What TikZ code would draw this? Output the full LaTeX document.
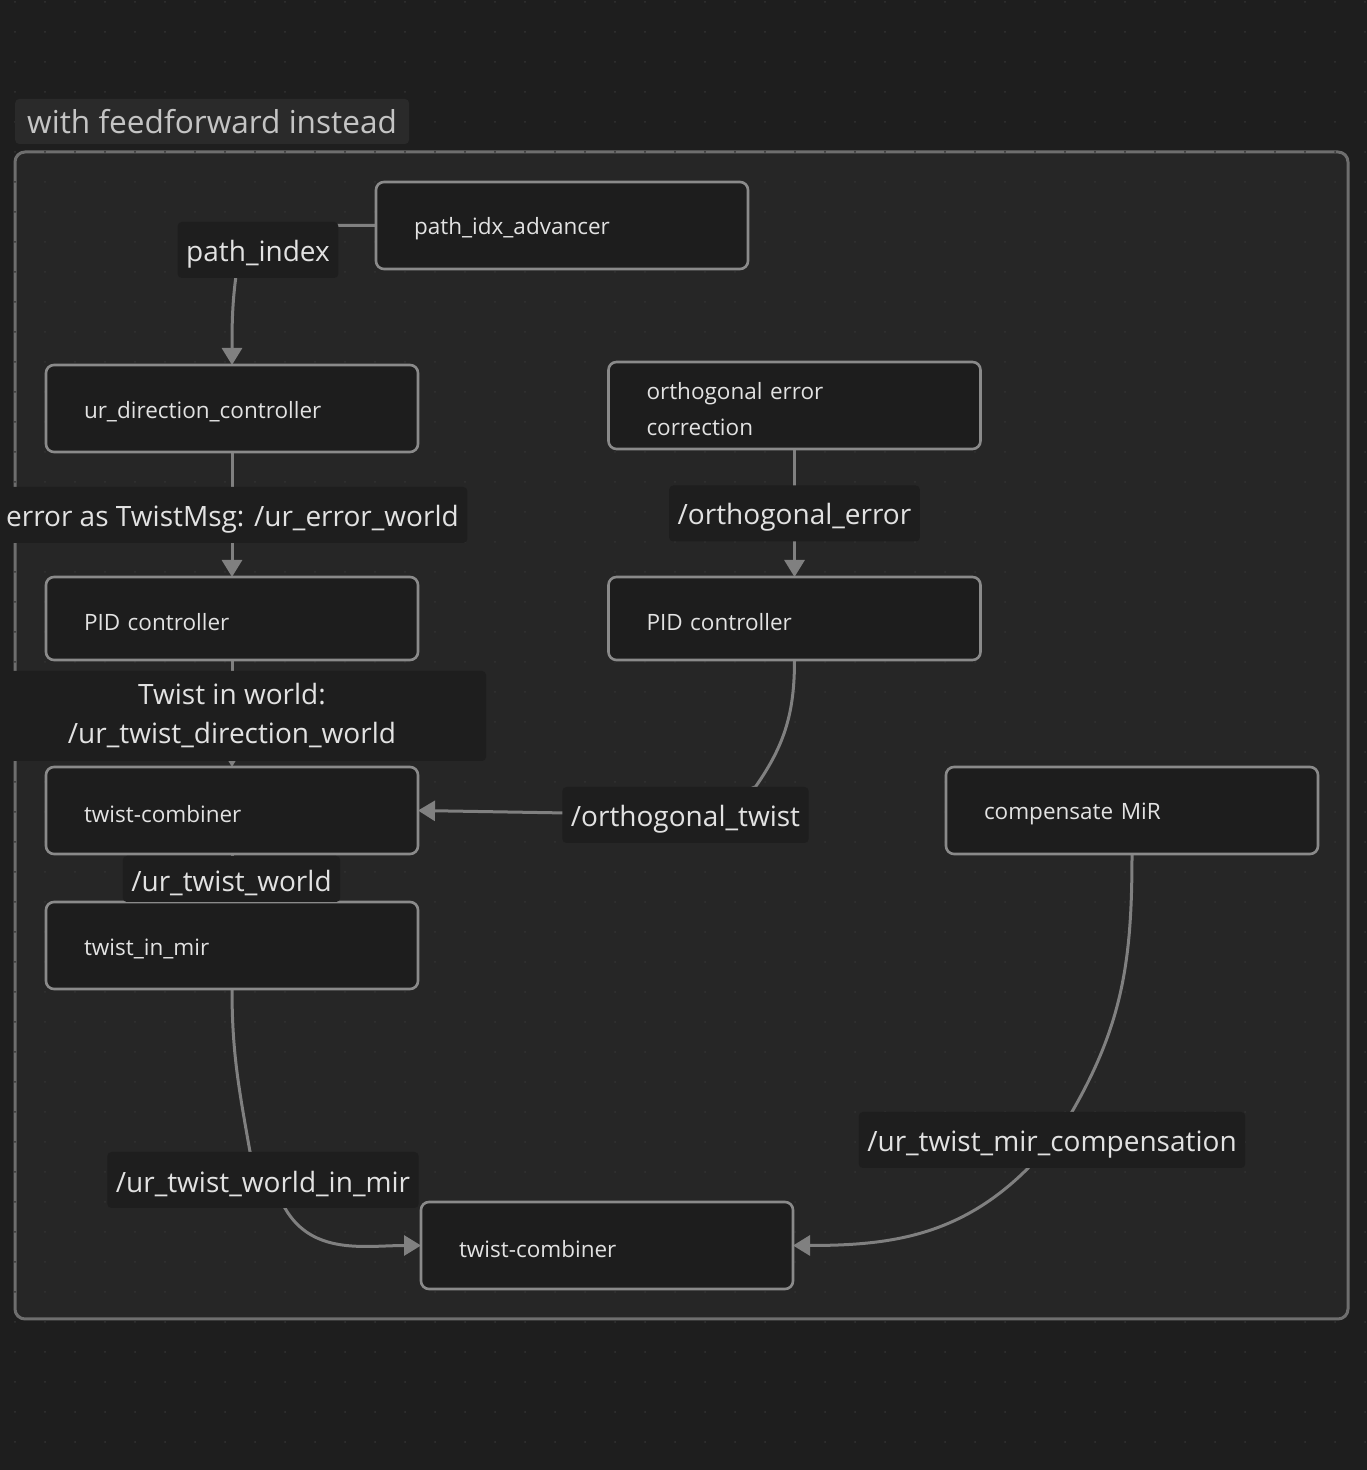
\documentclass[tikz,border=0pt]{standalone}
\usepackage{fontspec}
\setmainfont{Open Sans}
\usetikzlibrary{positioning, arrows.meta}
\definecolor{pagebg}{HTML}{1E1E1E}
\definecolor{framefill}{HTML}{262626}
\definecolor{frameline}{HTML}{6E6E6E}
\definecolor{titlefill}{HTML}{2A2A2A}
\definecolor{statefill}{HTML}{1D1D1D}
\definecolor{stateborder}{HTML}{8A8A8A}
\definecolor{labelfill}{HTML}{1E1E1E}
\definecolor{flowgray}{HTML}{808080}
\definecolor{textwhite}{HTML}{E2E2E2}
\definecolor{titlegray}{HTML}{C4C4C4}
\definecolor{griddot}{HTML}{333333}
\pgfdeclarelayer{background}
\pgfdeclarelayer{edges}
\pgfsetlayers{background,edges,main}

\begin{document}
\begin{tikzpicture}[x=1pt, y=1pt, state/.style={rectangle, rounded corners=8pt, draw=stateborder, line width=2.6pt, fill=statefill, text=textwhite, font=\fontsize{22.5}{36}\selectfont, text width=296pt, inner xsep=38pt, inner ysep=0pt, outer sep=0pt, align=left, minimum height=87pt, execute at begin node={\rule{0pt}{24pt}}}, topic/.style={rectangle, rounded corners=4pt, fill=labelfill, text=textwhite, font=\fontsize{28}{39}\selectfont, inner xsep=8.5pt, inner ysep=0pt, minimum height=56pt, align=center, execute at begin node={\rule{0pt}{29pt}}}, titlebox/.style={rectangle, rounded corners=4pt, fill=titlefill, text=titlegray, font=\fontsize{31.6}{36}\selectfont, inner xsep=12pt, inner ysep=0pt, minimum height=45pt}, flow/.style={draw=flowgray, line width=3pt, -{Triangle[width=20pt, length=17pt]}}]
\useasboundingbox (0,0) rectangle (1367,1470);

% Background
\begin{pgfonlayer}{background}
\fill[pagebg] (0,0) rectangle (1367,1470);
\draw[draw=frameline, line width=3pt, fill=framefill, rounded corners=10pt] (15,151) rectangle (1348,1318);
\foreach \i in {0,...,45} \foreach \j in {0,...,48} \fill[griddot] (15+30*\i, 1468-30*\j) circle (1pt);
\end{pgfonlayer}

\node[titlebox, anchor=west] (title) at (15,1348.5) {with feedforward instead};

% States

\node[state] (pidx) at (562,1244.5) {path\_idx\_advancer};
\node[state] (urdir) at (232,1061.5) {ur\_direction\_controller};
\node[state] (orth) at (794.5,1064.5) {orthogonal error\\correction};
\node[state, minimum height=83pt, below=125pt of urdir] (pidl) {PID controller};
\node[state, minimum height=83pt, below=128pt of orth] (pidr) {PID controller};
\node[state, below=107pt of pidl] (combl) {twist-combiner};
\node[state] (comp) at (1132,659.5) {compensate MiR};
\node[state, below=48pt of combl] (tmir) {twist\_in\_mir};
\node[state] (combb) at (607,224.5) {twist-combiner};

% Topics

\node[topic] (lpath) at (258,1220) {path\_index};
\node[topic] (lerr) at (232.5,955) {error as TwistMsg: /ur\_error\_world};
\node[topic] (lorthe) at (794.5,956.5) {/orthogonal\_error};
\node[topic, minimum width=508pt, minimum height=90pt] (ltw) at (232,754) {Twist in world:\\/ur\_twist\_direction\_world};
\node[topic] (lortht) at (685.5,655) {/orthogonal\_twist};
\node[topic, minimum height=46pt] (luwt) at (231.5,591) {/ur\_twist\_world};
\node[topic] (luwm) at (263,290) {/ur\_twist\_world\_in\_mir};
\node[topic] (lcomp) at (1052,330) {/ur\_twist\_mir\_compensation};

% Transitions

\begin{pgfonlayer}{edges}
\draw[flow] (pidx.west) -| ([xshift=-18pt]lpath.center) to[out=-100, in=90] (urdir.north);
\draw[flow] (urdir.south) -- (pidl.north);
\draw[flow] (orth.south) -- (pidr.north);
\draw[flow] (pidl.south) -- (combl.north);
\draw[flow] (pidr.south) to[out=-90, in=55] ([xshift=70pt]lortht.north) -- (lortht.center) -- (combl.east);
\draw[flow] (combl.south) -- (tmir.north);
\draw[flow] (tmir.south) to[out=-90, in=100] ([xshift=-13pt]luwm.north) -- ([xshift=22pt]luwm.south) to[out=-60, in=180] (combb.west);
\draw[flow] (comp.south) to[out=-90, in=60] ([xshift=20pt]lcomp.north) -- ([xshift=-24pt]lcomp.south) to[out=-135, in=0] (combb.east);
\end{pgfonlayer}

\end{tikzpicture}
\end{document}
